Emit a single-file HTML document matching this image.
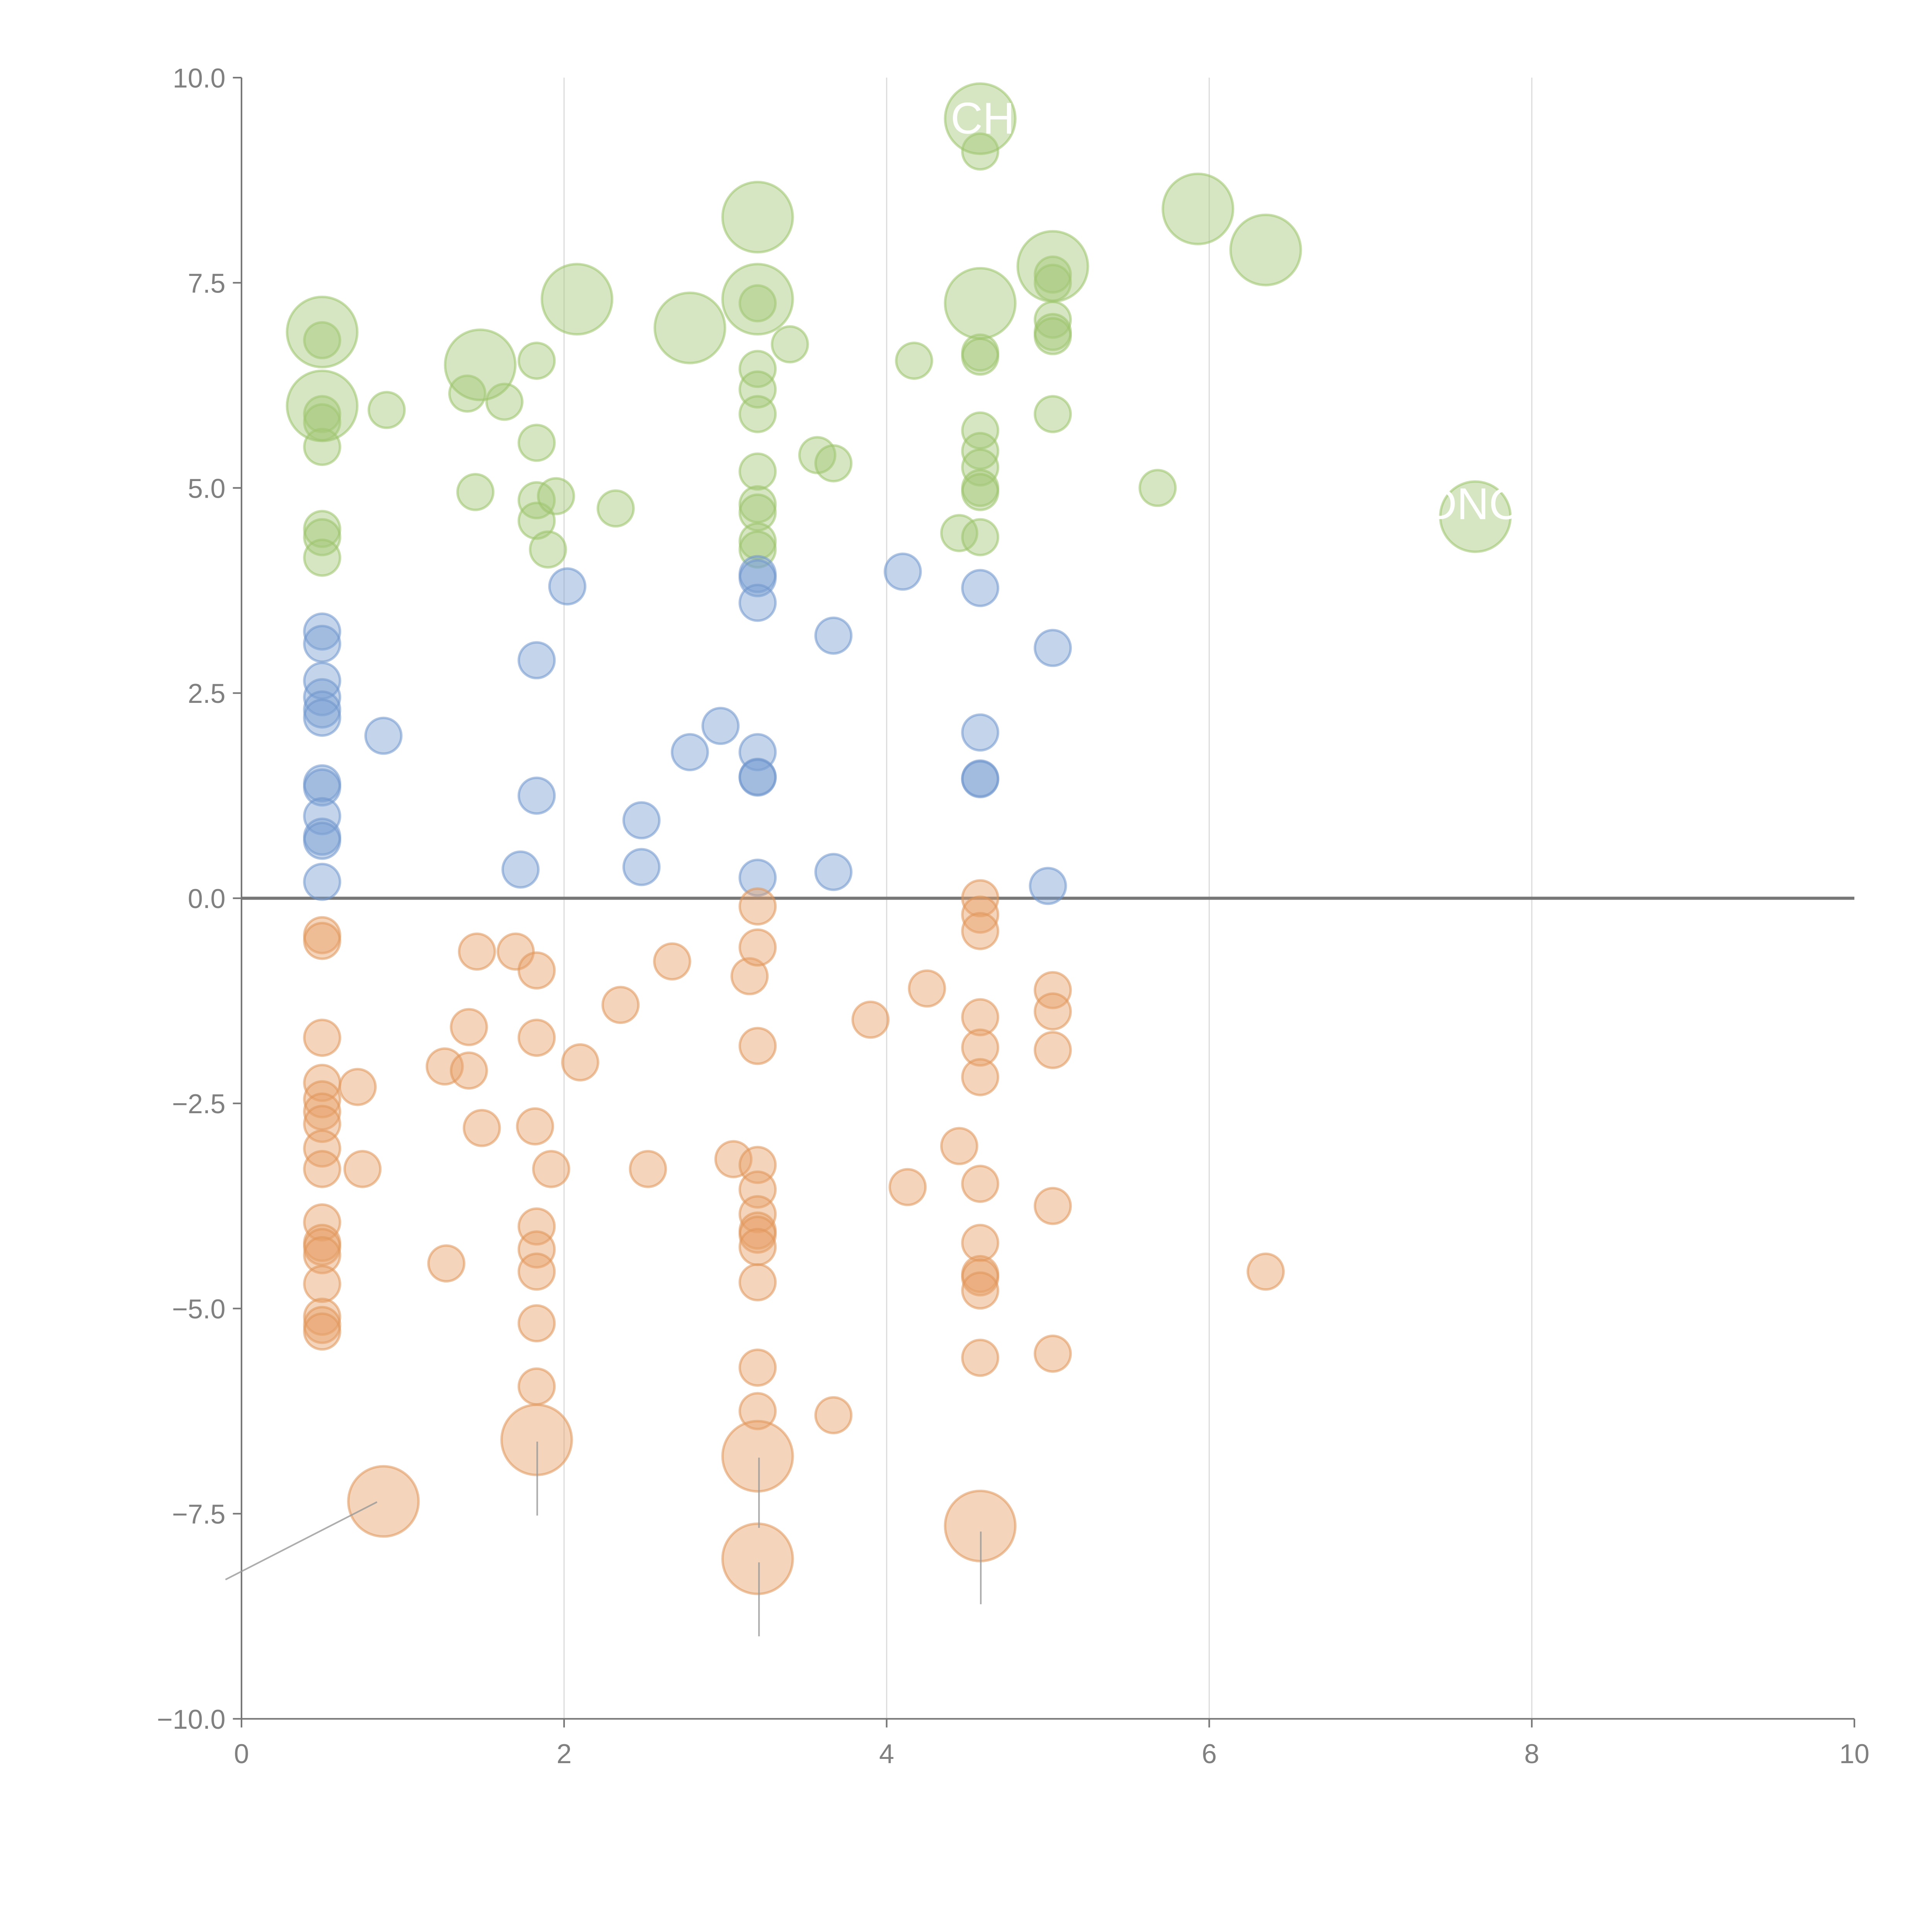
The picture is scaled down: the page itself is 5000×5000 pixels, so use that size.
<!DOCTYPE html>
<html><head><meta charset="utf-8"><style>
html,body{margin:0;padding:0;background:#fff;}
svg{display:block;}
text{font-family:"Liberation Sans",Arial,sans-serif;}
</style></head><body>
<svg id="chart" width="5000" height="5000" viewBox="0 0 1568 1568" xmlns="http://www.w3.org/2000/svg">
<g id="grid"></g>
<g id="axes"></g>
<g id="marks"></g>
<g id="labels"></g>
</svg>
<script>
const xTicks=[0,2,4,6,8,10];
const xTickLabels=["0","2","4","6","8","10"];
const yTicks=[10,7.5,5,2.5,0,-2.5,-5,-7.5,-10];
const yTickLabels=["10.0","7.5","5.0","2.5","0.0","\u22122.5","\u22125.0","\u22127.5","\u221210.0"];

const greenX=[0.5,0.5,0.5,0.5,0.5,0.5,0.5,0.9,1.4,1.63,1.45,1.83,1.83,1.83,1.83,1.95,1.9,2.32,3.2,3.2,3.2,3.2,3.2,3.2,3.2,3.2,3.2,3.4,3.57,3.67,4.17,4.45,4.58,4.58,4.58,4.58,4.58,4.58,4.58,4.58,4.58,5.03,5.03,5.03,5.03,5.03,5.03,5.68];
const greenY=[6.8,5.9,5.8,5.5,4.5,4.4,4.15,5.95,6.15,6.05,4.95,6.55,5.55,4.85,4.6,4.9,4.25,4.75,7.25,6.45,6.2,5.9,5.2,4.8,4.7,4.35,4.25,6.75,5.4,5.3,6.55,4.45,9.1,6.65,6.6,5.7,5.45,5.25,5.0,4.95,4.4,7.6,7.5,7.05,6.9,6.85,5.9,5.0];
const greenBigX=[0.5,0.5,1.48,2.08,2.78,3.2,3.2,4.58,4.58,5.03,5.93,6.35,7.65];
const greenBigY=[6.9,6.0,6.5,7.3,6.95,8.3,7.3,9.5,7.25,7.7,8.4,7.9,4.65];

const blueX=[0.5,0.5,0.5,0.5,0.5,0.5,0.5,0.5,0.5,0.5,0.5,0.5,0.88,1.73,1.83,1.83,2.02,2.48,2.48,2.78,2.97,3.2,3.2,3.2,3.2,3.2,3.2,3.2,3.67,3.67,4.1,4.58,4.58,4.58,4.58,5.0,5.03];
const blueY=[3.25,3.1,2.65,2.45,2.3,2.2,1.4,1.35,1.0,0.75,0.7,0.2,1.98,0.35,2.9,1.25,3.8,0.95,0.38,1.78,2.1,3.95,3.9,3.6,1.78,1.48,1.47,0.25,3.2,0.32,3.98,3.78,2.02,1.46,1.45,0.15,3.05];

const orangeX=[0.5,0.5,0.5,0.5,0.5,0.5,0.5,0.5,0.5,0.5,0.5,0.5,0.5,0.5,0.5,0.5,0.5,0.72,0.75,1.27,1.26,1.41,1.41,1.46,1.49,1.7,1.83,1.83,1.82,1.92,1.83,1.83,1.83,1.83,1.83,2.1,2.35,2.52,2.67,3.05,3.15,3.2,3.2,3.2,3.2,3.2,3.2,3.2,3.2,3.2,3.2,3.2,3.2,3.67,3.9,4.13,4.25,4.45,4.58,4.58,4.58,4.58,4.58,4.58,4.58,4.58,4.58,4.58,4.58,4.58,5.03,5.03,5.03,5.03,5.03,6.35];
const orangeY=[-0.45,-0.52,-1.7,-2.25,-2.45,-2.6,-2.75,-3.05,-3.3,-3.95,-4.2,-4.25,-4.35,-4.7,-5.1,-5.2,-5.28,-2.3,-3.3,-4.45,-2.05,-1.57,-2.1,-0.65,-2.8,-0.65,-0.88,-1.7,-2.78,-3.3,-4.0,-4.28,-4.55,-5.18,-5.95,-2.0,-1.3,-3.3,-0.77,-3.18,-0.95,-0.1,-0.6,-1.8,-3.25,-3.55,-3.85,-4.05,-4.1,-4.25,-4.68,-5.72,-6.25,-6.3,-1.48,-3.52,-1.1,-3.02,0.0,-0.2,-0.4,-1.45,-1.82,-2.18,-3.48,-4.2,-4.58,-4.62,-4.78,-5.6,-1.12,-1.38,-1.85,-3.75,-5.55,-4.55];
const orangeBigX=[0.88,1.83,3.2,3.2,4.58];
const orangeBigY=[-7.35,-6.6,-6.8,-8.05,-7.65];

const NS="http://www.w3.org/2000/svg";
const X0=196,X1=1505,Y0=1395,Y1=63;
function sx(v){return X0+(v-0)/(10-0)*(X1-X0);}
function sy(v){return Y0-(v+10)/20*(Y0-Y1);}
function mk(tag,attrs,parent){const e=document.createElementNS(NS,tag);for(const k in attrs)e.setAttribute(k,attrs[k]);parent.appendChild(e);return e;}

const grid=document.getElementById('grid'),axes=document.getElementById('axes'),marks=document.getElementById('marks'),labels=document.getElementById('labels');

xTicks.forEach((t,i)=>{
  if(t>0&&t<10){const g=mk('line',{x1:sx(t),x2:sx(t),y1:Y1,y2:Y0,stroke:'#dddddd','stroke-width':1},grid);
  
  }
  const tk=mk('line',{x1:sx(t),x2:sx(t),y1:Y0,y2:Y0+7,stroke:'#777','stroke-width':1.3},axes);
  
  
  const tx=mk('text',{x:sx(t),y:Y0+36,'text-anchor':'middle','font-size':22,fill:'#808080'},axes);
  tx.textContent=xTickLabels[i];
  
  
});
yTicks.forEach((t,i)=>{
  const tk=mk('line',{x1:X0-7,x2:X0,y1:sy(t),y2:sy(t),stroke:'#777','stroke-width':1.3},axes);
  
  
  const tx=mk('text',{x:X0-13,y:sy(t)+8,'text-anchor':'end','font-size':22,fill:'#808080'},axes);
  tx.textContent=yTickLabels[i];
  
  
});
const ya=mk('line',{x1:X0,x2:X0,y1:Y1,y2:Y0,stroke:'#777','stroke-width':1.3},axes);


const xa=mk('line',{x1:X0,x2:X1,y1:Y0,y2:Y0,stroke:'#777','stroke-width':1.3},axes);



function bubbles(xs,ys,r,fill,stroke,name){
  xs.forEach((x,i)=>{
    const c=mk('circle',{cx:sx(x),cy:sy(ys[i]),r:r,fill:fill,'fill-opacity':0.45,stroke:stroke,'stroke-opacity':0.55,'stroke-width':2},marks);
    
    
  });
}
bubbles(greenX,greenY,14.5,'#a5c878','#9ac26a','green-bubble');
bubbles(greenBigX,greenBigY,28.5,'#a5c878','#9ac26a','green-large-bubble');
bubbles(blueX,blueY,14.5,'#7b9fd2','#6f95cc','blue-bubble');
bubbles(orangeX,orangeY,14.5,'#e6a068','#e0955a','orange-bubble');
bubbles(orangeBigX,orangeBigY,28.5,'#e6a068','#e0955a','orange-large-bubble');

const zl=mk('line',{x1:X0,x2:X1,y1:sy(0),y2:sy(0),stroke:'#777','stroke-width':2.5},axes);



const leaders=[[306,1219,183,1282],[436,1170,436,1230],[616,1183,616,1240],[616,1268,616,1328],[796,1243,796,1302]];
leaders.forEach(l=>{
  const e=mk('line',{x1:l[0],y1:l[1],x2:l[2],y2:l[3],stroke:'#999','stroke-width':1.3,'stroke-opacity':0.8},labels);
  
  
});
const t1=mk('text',{x:sx(4.58)+2,y:sy(9.5)+12,'text-anchor':'middle','font-size':36,fill:'#fff'},labels);
t1.textContent='CH';


const t2=mk('text',{x:sx(7.65)-2,y:sy(4.65)+2,'text-anchor':'middle','font-size':36,fill:'#fff'},labels);
t2.textContent='DNC';


</script>
</body></html>
